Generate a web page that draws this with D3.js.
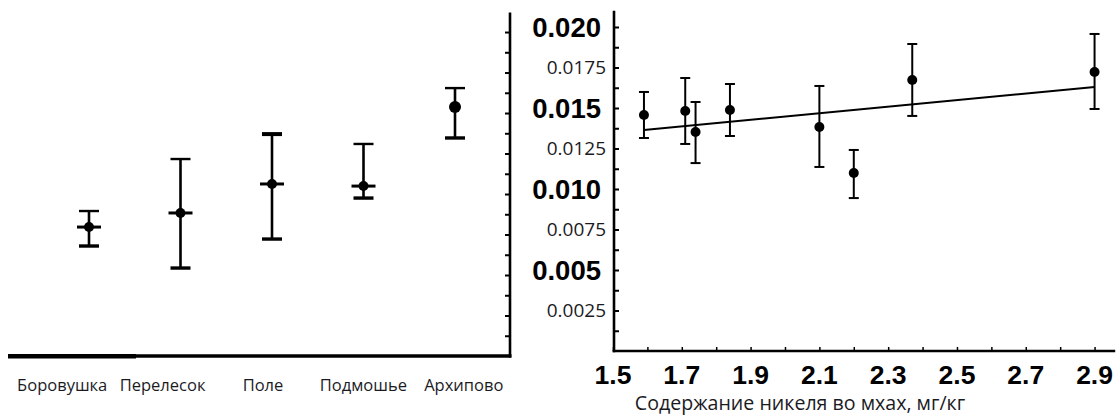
<!DOCTYPE html>
<html>
<head>
<meta charset="utf-8">
<script src="https://cdn.jsdelivr.net/npm/d3@7"></script>
<style>
  html, body { margin: 0; padding: 0; background: #ffffff; }
  svg { display: block; }
</style>
</head>
<body>
<svg id="chart" width="1118" height="417"></svg>
<script>
// ---------- data ----------
const categories = ["Боровушка", "Перелесок", "Поле", "Подмошье", "Архипово"];
const siteMean = [0.00796, 0.00883, 0.01062, 0.01049, 0.01537];
const siteLow  = [0.00679, 0.00543, 0.00722, 0.00975, 0.01346];
const siteHigh = [0.00895, 0.01216, 0.01370, 0.01309, 0.01654];

const nickel     = [1.59, 1.71, 1.74, 1.84, 2.10, 2.20, 2.37, 2.90];
const nickelMean = [0.01457, 0.01481, 0.01352, 0.01488, 0.01383, 0.01099, 0.01673, 0.01722];
const nickelLow  = [0.01315, 0.01278, 0.01160, 0.01327, 0.01136, 0.00944, 0.01451, 0.01494];
const nickelHigh = [0.01599, 0.01685, 0.01537, 0.01648, 0.01636, 0.01241, 0.01895, 0.01957];

const trendX = [1.59, 2.90];
const trendY = [0.01364, 0.01630];

const yMajorTicks = [0.005, 0.010, 0.015, 0.020];
const yMajorLabels = ["0.005", "0.010", "0.015", "0.020"];
const yMinorTicks = [0.0025, 0.0075, 0.0125, 0.0175];
const yMinorLabels = ["0.0025", "0.0075", "0.0125", "0.0175"];
const xTicks = [1.5, 1.7, 1.9, 2.1, 2.3, 2.5, 2.7, 2.9];
const xTitle = "Содержание никеля во мхах, мг/кг";

// ---------- setup ----------
const svg = d3.select("#chart");
const ink = "#000";
const textInk = "#1b1b1f";

// ---------- left panel ----------
const yL = d3.scaleLinear().domain([0, 0.0212]).range([356, 12.6]);
const xLpts = d3.scalePoint().domain(categories).range([89, 455]);
const xLlab = d3.scaleBand().domain(categories).range([12, 514]);

const left = svg.append("g");

// baseline
left.append("line")
  .attr("x1", 8).attr("x2", 511.5).attr("y1", yL(0)).attr("y2", yL(0))
  .attr("stroke", ink).attr("stroke-width", 3.6);
left.append("line")
  .attr("x1", 8).attr("x2", 136).attr("y1", yL(0) + 0.3).attr("y2", yL(0) + 0.3)
  .attr("stroke", ink).attr("stroke-width", 4.4);

// vertical axis on the right of the left panel, ticks inward
const axL = left.append("g").attr("transform", "translate(510,0)")
  .call(d3.axisLeft(yL).tickValues(d3.range(1, 17).map(i => i * 0.00125)).tickSize(5).tickFormat(""));
axL.select(".domain").remove();
axL.selectAll(".tick line").attr("stroke", ink).attr("stroke-width", 2);
left.append("line")
  .attr("x1", 510).attr("x2", 510).attr("y1", yL.range()[1]).attr("y2", yL(0) + 1.5)
  .attr("stroke", ink).attr("stroke-width", 2.6);

// category labels
left.selectAll("text.cat").data(categories).join("text")
  .attr("class", "cat")
  .attr("x", d => xLlab(d) + xLlab.bandwidth() / 2)
  .attr("y", 391)
  .attr("text-anchor", "middle")
  .attr("font-family", "'Open Sans', sans-serif")
  .attr("font-size", 16.5)
  .attr("fill", textInk)
  .text(d => d);

// error bars
const gL = left.selectAll("g.site").data(categories).join("g").attr("class", "site");
gL.append("line")
  .attr("x1", d => xLpts(d)).attr("x2", d => xLpts(d))
  .attr("y1", (d, i) => yL(siteLow[i])).attr("y2", (d, i) => yL(siteHigh[i]))
  .attr("stroke", ink).attr("stroke-width", 2.6);
gL.append("line")
  .attr("x1", d => xLpts(d) - 10).attr("x2", d => xLpts(d) + 10)
  .attr("y1", (d, i) => yL(siteHigh[i])).attr("y2", (d, i) => yL(siteHigh[i]))
  .attr("stroke", ink).attr("stroke-width", (d, i) => i === 2 ? 4 : 2.4);
gL.append("line")
  .attr("x1", d => xLpts(d) - 10).attr("x2", d => xLpts(d) + 10)
  .attr("y1", (d, i) => yL(siteLow[i])).attr("y2", (d, i) => yL(siteLow[i]))
  .attr("stroke", ink).attr("stroke-width", 3.4);
gL.filter((d, i) => i < 4).append("line")
  .attr("x1", d => xLpts(d) - 12).attr("x2", d => xLpts(d) + 12)
  .attr("y1", (d, i) => yL(siteMean[i])).attr("y2", (d, i) => yL(siteMean[i]))
  .attr("stroke", ink).attr("stroke-width", 3);
gL.append("circle")
  .attr("cx", d => xLpts(d)).attr("cy", (d, i) => yL(siteMean[i]))
  .attr("r", (d, i) => i === 4 ? 6 : 5)
  .attr("fill", ink);

// ---------- right panel ----------
const xR = d3.scaleLinear().domain([1.5, 2.96]).range([613, 1115.2]);
const yR = d3.scaleLinear().domain([0, 0.021]).range([351, 10.8]);

const right = svg.append("g");

// y axis ticks (inward)
const axRY = right.append("g").attr("transform", "translate(614,0)")
  .call(d3.axisRight(yR).tickValues(d3.range(1, 17).map(i => i * 0.00125)).tickSize(5).tickFormat(""));
axRY.select(".domain").remove();
axRY.selectAll(".tick line").attr("stroke", ink).attr("stroke-width", 2);
right.append("line")
  .attr("x1", 614).attr("x2", 614).attr("y1", yR.range()[1]).attr("y2", yR(0) + 1.3)
  .attr("stroke", ink).attr("stroke-width", 2.6);

// x axis ticks (inward)
const minorX = d3.range(0, 15).map(i => +(1.5 + i * 0.1).toFixed(1));
const axRX = right.append("g").attr("transform", `translate(0,${yR(0)})`)
  .call(d3.axisTop(xR).tickValues(minorX).tickSize(4).tickFormat(""));
axRX.select(".domain").remove();
axRX.selectAll(".tick line").attr("stroke", ink).attr("stroke-width", 1.5);
right.append("line")
  .attr("x1", 612.7).attr("x2", xR.range()[1]).attr("y1", yR(0)).attr("y2", yR(0))
  .attr("stroke", ink).attr("stroke-width", 2.6);

// x tick labels
right.selectAll("text.xl").data(xTicks).join("text")
  .attr("class", "xl")
  .attr("x", d => xR(d)).attr("y", 384)
  .attr("text-anchor", "middle")
  .attr("font-family", "'Liberation Sans', Arial, sans-serif")
  .attr("font-weight", "bold").attr("font-size", 26.5)
  .attr("fill", ink)
  .text(d => d.toFixed(1));

// x title
right.append("text")
  .attr("x", 800).attr("y", 410)
  .attr("text-anchor", "middle")
  .attr("font-family", "'Open Sans', sans-serif")
  .attr("font-size", 19.6)
  .attr("fill", textInk)
  .text(xTitle);

// y labels: big bold majors
right.selectAll("text.ymaj").data(yMajorTicks).join("text")
  .attr("class", "ymaj")
  .attr("x", 601).attr("y", d => yR(d))
  .attr("dy", "0.36em")
  .attr("text-anchor", "end")
  .attr("font-family", "'Liberation Sans', Arial, sans-serif")
  .attr("font-weight", "bold").attr("font-size", 27.5)
  .attr("fill", ink)
  .text((d, i) => yMajorLabels[i]);

// y labels: small minors
right.selectAll("text.ymin").data(yMinorTicks).join("text")
  .attr("class", "ymin")
  .attr("x", 606).attr("y", d => yR(d))
  .attr("dy", "0.36em")
  .attr("text-anchor", "end")
  .attr("font-family", "'Open Sans', sans-serif")
  .attr("font-size", 19)
  .attr("fill", textInk)
  .text((d, i) => yMinorLabels[i]);

// trend line
right.append("line")
  .attr("x1", xR(trendX[0])).attr("y1", yR(trendY[0]))
  .attr("x2", xR(trendX[1])).attr("y2", yR(trendY[1]))
  .attr("stroke", ink).attr("stroke-width", 2);

// error bars
const gR = right.selectAll("g.pt").data(nickel).join("g").attr("class", "pt");
gR.append("line")
  .attr("x1", d => xR(d)).attr("x2", d => xR(d))
  .attr("y1", (d, i) => yR(nickelLow[i])).attr("y2", (d, i) => yR(nickelHigh[i]))
  .attr("stroke", ink).attr("stroke-width", 2);
gR.append("line")
  .attr("x1", d => xR(d) - 5).attr("x2", d => xR(d) + 5)
  .attr("y1", (d, i) => yR(nickelHigh[i])).attr("y2", (d, i) => yR(nickelHigh[i]))
  .attr("stroke", ink).attr("stroke-width", 2);
gR.append("line")
  .attr("x1", d => xR(d) - 5).attr("x2", d => xR(d) + 5)
  .attr("y1", (d, i) => yR(nickelLow[i])).attr("y2", (d, i) => yR(nickelLow[i]))
  .attr("stroke", ink).attr("stroke-width", 2);
gR.append("circle")
  .attr("cx", d => xR(d)).attr("cy", (d, i) => yR(nickelMean[i]))
  .attr("r", 5)
  .attr("fill", ink);
</script>
</body>
</html>
